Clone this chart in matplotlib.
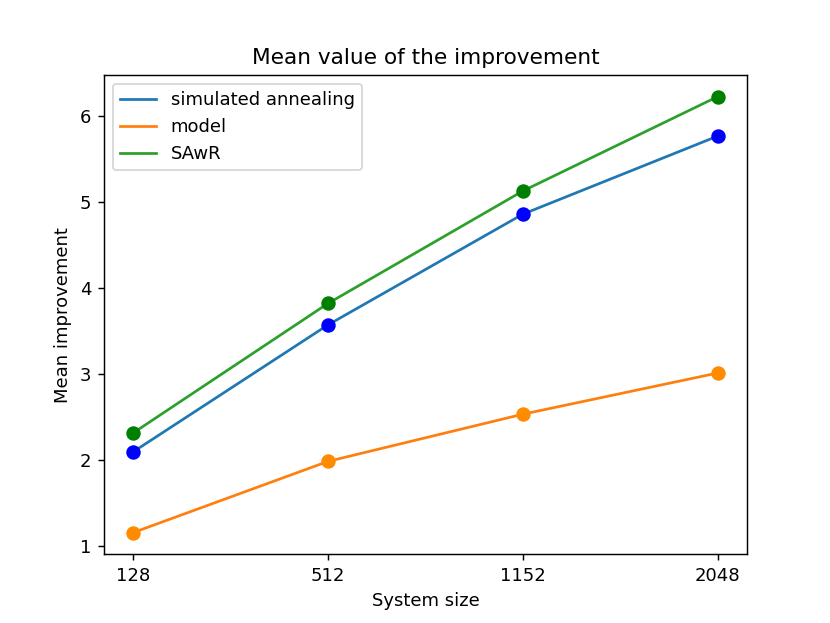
import numpy as np
import matplotlib
matplotlib.use("Agg")
import matplotlib.pyplot as plt

sizes = ["128", "512", "1152", "2048"]
sa_mean = [2.09, 3.57, 4.86, 5.77]
model_mean = [1.15, 1.98, 2.53, 3.01]
sawr_mean = [2.31, 3.82, 5.13, 6.23]

x = np.arange(len(sizes))

fig, ax = plt.subplots(figsize=(830 / 130, 623 / 130), dpi=130)

ax.plot(x, sa_mean, label="simulated annealing")
ax.plot(x, sa_mean, "o", color="blue", markersize=7)
ax.plot(x, model_mean, label="model")
ax.plot(x, model_mean, "o", color="darkorange", markersize=7)
ax.plot(x, sawr_mean, label="SAwR")
ax.plot(x, sawr_mean, "o", color="green", markersize=7)

ax.set_xticks(x)
ax.set_xticklabels(sizes)
ax.set_xlabel("System size")
ax.set_ylabel("Mean improvement")
ax.set_title("Mean value of the improvement")
ax.legend(loc="upper left")

plt.savefig("out.png", dpi=130)
